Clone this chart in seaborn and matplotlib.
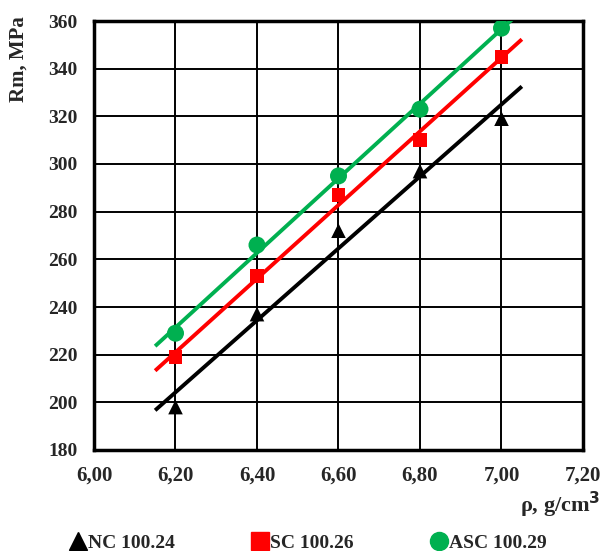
import numpy as np
import pandas as pd
import matplotlib
matplotlib.use("Agg")
import matplotlib.pyplot as plt
import seaborn as sns
from matplotlib.lines import Line2D

# ── Data ──────────────────────────────────────────────────────────────────────
density = [6.20, 6.40, 6.60, 6.80, 7.00]
nc_rm   = [198, 237, 272, 297, 319]
sc_rm   = [219, 253, 287, 310, 345]
asc_rm  = [229, 266, 295, 323, 357]

series_names = ["NC 100.24", "SC 100.26", "ASC 100.29"]
x_ticks = [6.00, 6.20, 6.40, 6.60, 6.80, 7.00, 7.20]
y_ticks = [180, 200, 220, 240, 260, 280, 300, 320, 340, 360]

df = pd.DataFrame({
    "rho": density * 3,
    "Rm": nc_rm + sc_rm + asc_rm,
    "series": np.repeat(series_names, len(density)),
})

colors  = {"NC 100.24": "black", "SC 100.26": "#FF0000", "ASC 100.29": "#00B050"}
markers = {"NC 100.24": "^", "SC 100.26": "s", "ASC 100.29": "o"}
msizes  = {"NC 100.24": 110, "SC 100.26": 100, "ASC 100.29": 150}

# ── Plot ──────────────────────────────────────────────────────────────────────
sns.set_style("white")
plt.rcParams["font.family"] = ["Liberation Serif", "DejaVu Serif"]

fig = plt.figure(figsize=(6.02, 5.51), dpi=100)
ax = fig.add_axes([94 / 602, 1 - 450 / 551, 489 / 602, 429 / 551])

fit_x = np.array([6.15, 7.05])
for name in series_names:
    sub = df[df["series"] == name]
    k, b = np.polyfit(sub["rho"], sub["Rm"], 1)
    ax.plot(fit_x, k * fit_x + b, color=colors[name], lw=2.8, zorder=3,
            solid_capstyle="butt")
    sns.scatterplot(data=sub, x="rho", y="Rm", color=colors[name],
                    marker=markers[name], s=msizes[name], edgecolor="none",
                    ax=ax, zorder=4, legend=False)

ax.set_xlim(6.0, 7.2)
ax.set_ylim(180, 360)
ax.set_xticks(x_ticks)
ax.set_yticks(y_ticks)
ax.set_xticklabels([f"{t:.2f}".replace(".", ",") for t in x_ticks],
                   fontsize=15, fontweight="bold")
ax.set_yticklabels([str(t) for t in y_ticks], fontsize=14, fontweight="bold")
ax.tick_params(axis="x", length=0, pad=11)
ax.tick_params(axis="y", length=0, pad=12)
ax.grid(True, color="black", lw=1.4)
ax.set_axisbelow(True)
for sp in ax.spines.values():
    sp.set_color("black")
    sp.set_linewidth(2.5)

ax.set_xlabel("")
ax.set_ylabel("")
fig.text(19 / 602, 1 - 59 / 551, "Rm, MPa", rotation=90, ha="center",
         va="center", fontsize=15, fontweight="bold")
fig.text(600 / 602, 1 - 505 / 551, "ρ, g/cm$^\\mathbf{3}$", ha="right",
         va="center", fontsize=16, fontweight="bold")

handles = [Line2D([], [], ls="none", marker=markers[n], color=colors[n],
                  markersize=13) for n in series_names]
fig.legend(handles, series_names, loc="center", ncol=3, frameon=False,
           bbox_to_anchor=(0.511, 1 - 543 / 551), handletextpad=0.0,
           columnspacing=3.9, prop={"size": 14, "weight": "bold"},
           handlelength=1.0, borderaxespad=0, borderpad=0)

fig.savefig("out.png", dpi=100)
